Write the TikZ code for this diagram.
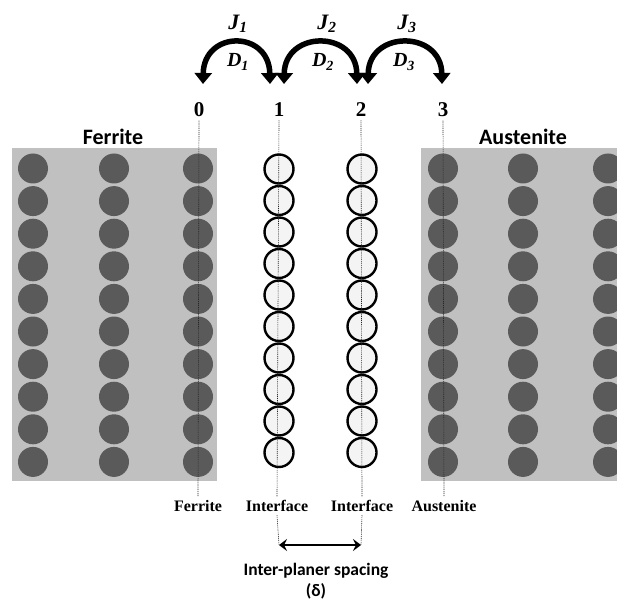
\documentclass[tikz,border=0pt]{standalone}
\usepackage{fontspec}
\setmainfont{Liberation Serif}
\newfontfamily\calibri{Carlito}
\usetikzlibrary{arrows.meta}
\definecolor{slab}{RGB}{192,192,192}
\definecolor{atomdark}{RGB}{90,90,90}
\definecolor{atomlight}{RGB}{244,244,244}
\tikzset{
  slabbox/.style={fill=slab, draw=none},
  darkatom/.style={circle, fill=atomdark, draw=none, minimum size=30pt, inner sep=0pt},
  openatom/.style={circle, fill=atomlight, draw=black, line width=2.4pt, minimum size=29pt, inner sep=0pt},
  planeline/.style={draw=black!85, line width=0.6pt, dash pattern=on 1pt off 0.9pt},
  phaselabel/.style={font=\calibri\bfseries\fontsize{22}{24}\selectfont},
  planenum/.style={font=\bfseries\fontsize{21}{24}\selectfont},
  sitelabel/.style={font=\bfseries\fontsize{16}{18}\selectfont},
  fluxlabel/.style={font=\bfseries\itshape\fontsize{22}{24}\selectfont},
  difflabel/.style={font=\bfseries\itshape\fontsize{20}{22}\selectfont},
  jumparrow/.style={line width=5.5pt, {Triangle[length=11pt,width=17pt]}-{Triangle[length=11pt,width=17pt]}},
  spacearrow/.style={line width=2.2pt, {Stealth[length=8pt,width=12pt,inset=3pt]}-{Stealth[length=8pt,width=12pt,inset=3pt]}},
  spacelabel/.style={font=\calibri\bfseries\fontsize{17.5}{21}\selectfont, align=center}
}
\begin{document}
\begin{tikzpicture}[x=1pt,y=-1pt]
\useasboundingbox (0,0) rectangle (617,601);
\begin{scope}
\clip (0,0) rectangle (617,601);
% ferrite and austenite slabs
\path[slabbox] (12,148) rectangle (217,481);
\path[slabbox] (421,148) rectangle (617,481);
% lattice atoms of the two phases
\foreach \r in {0,...,9}{
  \foreach \x in {33,114,198,443,523,608}{
    \node[darkatom] at (\x,{168.5+32.6*\r}) {};
  }
}
\end{scope}
% interface atoms
\foreach \r in {0,...,9}{
  \foreach \x in {279,362}{
    \node[openatom] at (\x,{169+31.5*\r}) {};
  }
}
% plane numbers
\node[planenum] (n0) at (199,110) {0};
\node[planenum] (n1) at (279,110) {1};
\node[planenum] (n2) at (361,110) {2};
\node[planenum] (n3) at (443,110) {3};
% site labels
\node[sitelabel] (s0) at (198,506) {Ferrite};
\node[sitelabel] (s1) at (277,506) {Interface};
\node[sitelabel] (s2) at (362,506) {Interface};
\node[sitelabel] (s3) at (444,506) {Austenite};
% lattice planes
\draw[planeline] (n0.south) -- (s0.north);
\draw[planeline] (n1.south) -- (s1.north);
\draw[planeline] (n2.south) -- (s2.north);
\draw[planeline] (n3.south) -- (s3.north);
\coordinate (d1) at (279,545);
\coordinate (d2) at (361,545);
\draw[planeline] (s1.south) -- (d1);
\draw[planeline] (s2.south) -- (d2);
% phase names
\node[phaselabel] (fe) at (113,137) {Ferrite};
\node[phaselabel] (au) at (523,137) {Austenite};
% jumps between planes
\coordinate (a0) at (203,84);
\coordinate (a1) at (270,84);
\coordinate (b0) at (284,84);
\coordinate (b1) at (357,84);
\coordinate (c0) at (368,84);
\coordinate (c1) at (442,84);
\draw[jumparrow] (a0) .. controls (204,30) and (269,30) .. (a1);
\draw[jumparrow] (b0) .. controls (285,30) and (356,30) .. (b1);
\draw[jumparrow] (c0) .. controls (369,30) and (441,30) .. (c1);
\node[fluxlabel] (j1) at (238,24) {J\textsubscript{1}};
\node[fluxlabel] (j2) at (327,24) {J\textsubscript{2}};
\node[fluxlabel] (j3) at (407,24) {J\textsubscript{3}};
\node[difflabel] (dd1) at (238,62) {D\textsubscript{1}};
\node[difflabel] (dd2) at (323,62) {D\textsubscript{2}};
\node[difflabel] (dd3) at (404,62) {D\textsubscript{3}};
% inter-planar spacing
\draw[spacearrow] (d1) -- (d2);
\node[spacelabel] (sp) at (316,581) {Inter-planer spacing\\(δ)};
\end{tikzpicture}
\end{document}
